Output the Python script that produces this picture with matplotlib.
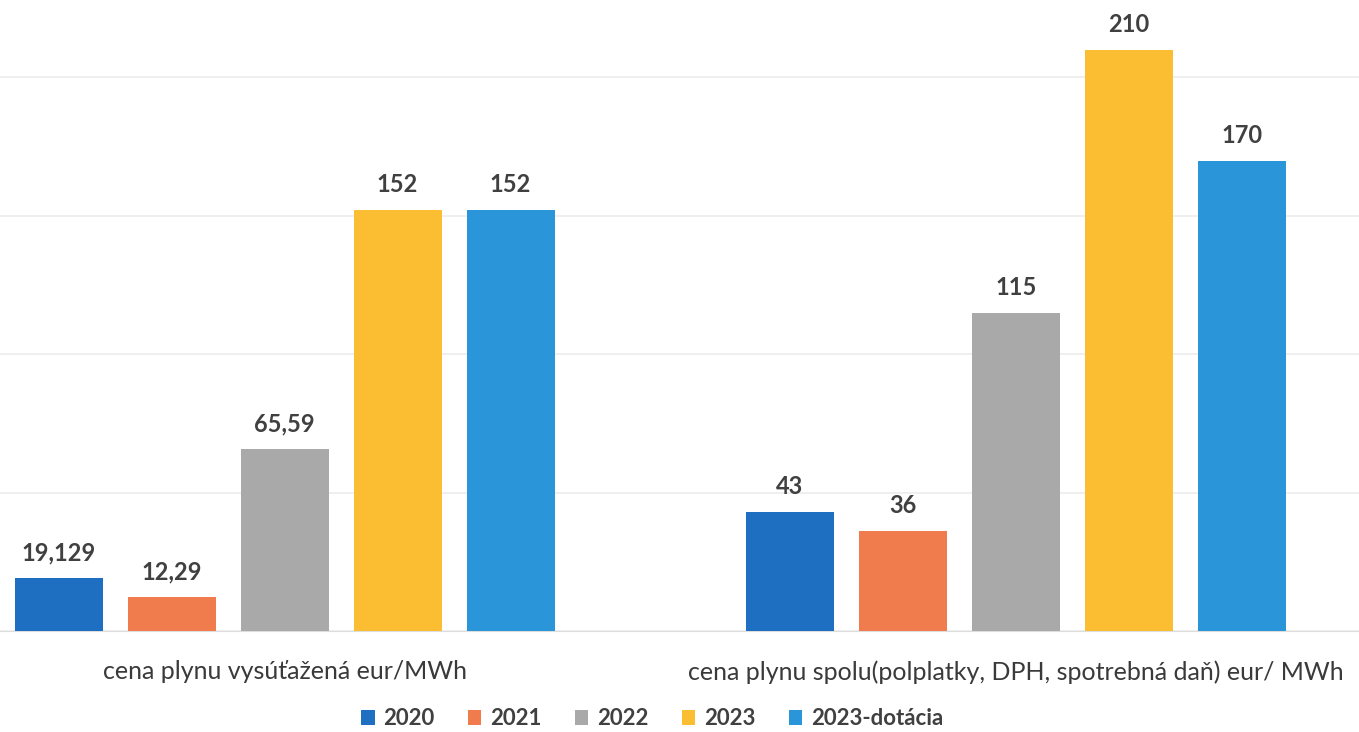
import numpy as np
import matplotlib
matplotlib.use('Agg')
import matplotlib.pyplot as plt

plt.rcParams['font.family'] = ['Lato', 'DejaVu Sans']

# data
categories = ['cena plynu vysúťažená eur/MWh',
              'cena plynu spolu(polplatky, DPH, spotrebná daň) eur/ MWh']
series = ['2020', '2021', '2022', '2023', '2023-dotácia']
values = {
    '2020': [19.129, 43],
    '2021': [12.29, 36],
    '2022': [65.59, 115],
    '2023': [152, 210],
    '2023-dotácia': [152, 170],
}
colors = ['#1e6fc2', '#f07b4d', '#a9a9a9', '#fbbd32', '#2b95da']


def fmt(v):
    if float(v).is_integer():
        return str(int(v))
    return str(v).replace('.', ',')


fig = plt.figure(figsize=(13.59, 7.32), dpi=100)
ax = fig.add_axes([0, 0.138, 1, 0.862])

x = np.arange(len(categories))
step = 0.1545
width = 0.1203
for i, s in enumerate(series):
    bars = ax.bar(x + (i - 2) * step, values[s], width, color=colors[i], label=s, zorder=3)
    ax.bar_label(bars, labels=[fmt(v) for v in values[s]], padding=10,
                 fontsize=17, fontweight='bold', color='#404040')

ax.set_xlim(-0.389, 1.469)
ax.set_ylim(0, 228)
ax.set_yticks([0, 50, 100, 150, 200])
ax.yaxis.grid(True, color='#ececec', linewidth=1.2, zorder=0)
ax.set_yticklabels([])
ax.tick_params(axis='y', length=0)
ax.set_xticks(x)
ax.set_xticklabels(categories, fontsize=18, color='#3a3a3a')
ax.tick_params(axis='x', length=0, pad=21)
for sp in ['top', 'right', 'left']:
    ax.spines[sp].set_visible(False)
ax.spines['bottom'].set_color('#dddddd')

fig.legend(loc='center', bbox_to_anchor=(0.48, 0.018), ncol=5, frameon=False,
           prop={'size': 16, 'weight': 'bold'}, labelcolor='#404040',
           handlelength=0.6, handleheight=0.6, handletextpad=0.4, columnspacing=1.5)

fig.savefig('out.png', dpi=100)
